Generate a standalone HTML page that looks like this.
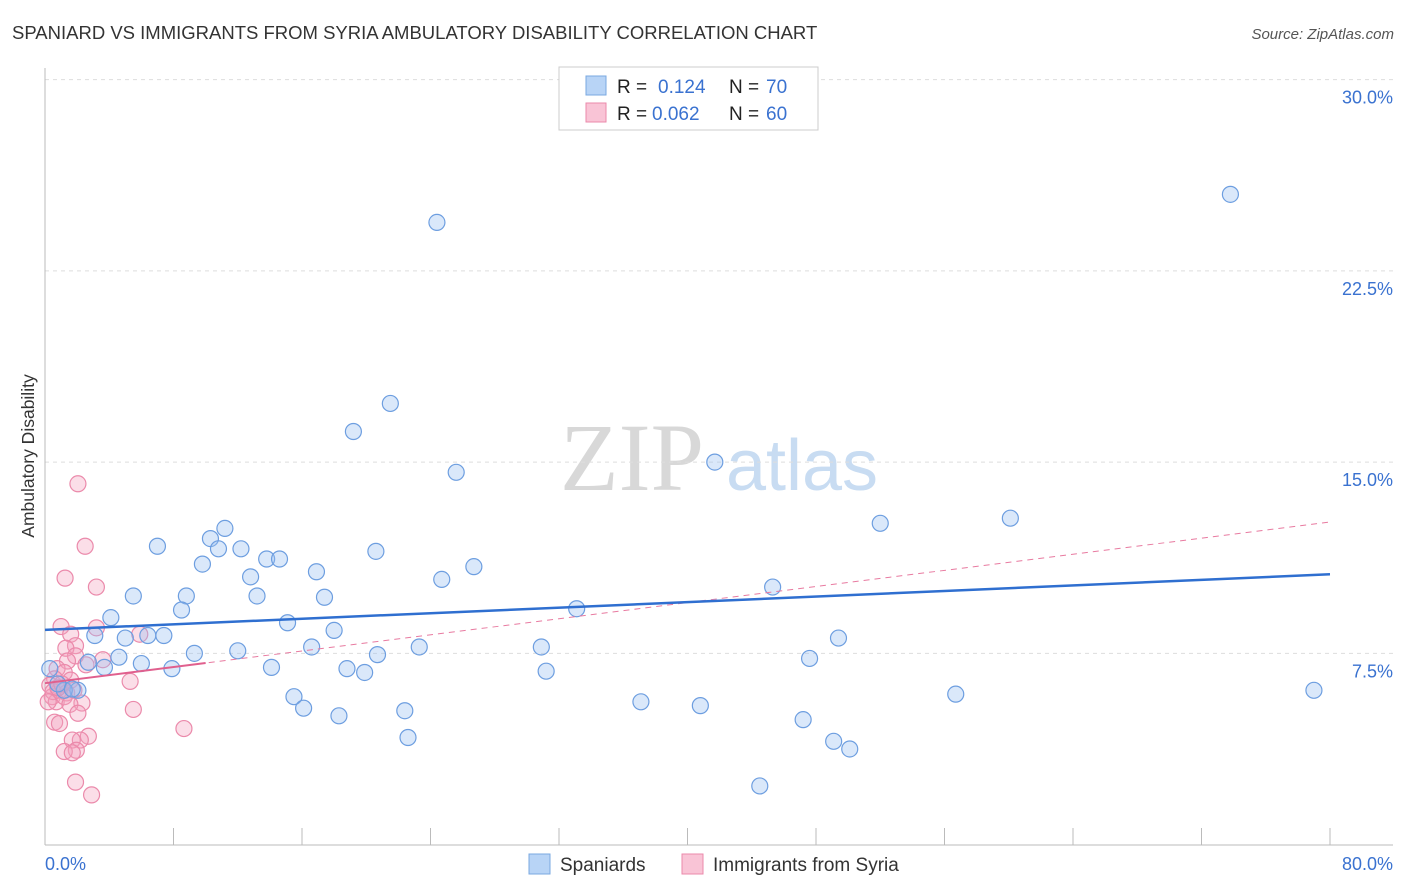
<!DOCTYPE html>
<html><head><meta charset="utf-8">
<style>
body{margin:0;background:#fff;font-family:"Liberation Sans",sans-serif;}
#wrap{position:relative;width:1406px;height:892px;overflow:hidden;}
</style></head>
<body>
<div id="wrap">
<svg id="svg" width="1406" height="892" xmlns="http://www.w3.org/2000/svg">
<text x="12" y="39" font-size="18.5" fill="#333">SPANIARD VS IMMIGRANTS FROM SYRIA AMBULATORY DISABILITY CORRELATION CHART</text>
<text x="1394" y="39" font-size="15" fill="#555" font-style="italic" text-anchor="end">Source: ZipAtlas.com</text>
<text x="34" y="456" font-size="17.5" fill="#333" text-anchor="middle" transform="rotate(-90 34 456)">Ambulatory Disability</text>
<g>
<text x="632" y="490" font-size="96" fill="#d8d8d8" font-family="Liberation Serif, serif" text-anchor="middle">ZIP</text>
<text x="802" y="490" font-size="72" fill="#c8dcf2" text-anchor="middle">atlas</text>
</g>
<g id="grid"></g>
<g id="axes"></g>
<g id="marks"></g>
<g>
<rect x="559" y="67" width="259" height="63" fill="#fff" stroke="#ccc"/>
<rect x="586" y="76" width="20" height="19" fill="#b8d4f6" stroke="#7aa8e0"/>
<rect x="586" y="103" width="20" height="19" fill="#f9c4d6" stroke="#eb8aab"/>
<text x="617" y="93" font-size="19" fill="#222">R =</text>
<text x="658" y="93" font-size="19" fill="#3a72d0">0.124</text>
<text x="729" y="93" font-size="19" fill="#222">N =</text>
<text x="766" y="93" font-size="19" fill="#3a72d0">70</text>
<text x="617" y="120" font-size="19" fill="#222">R =</text>
<text x="652" y="120" font-size="19" fill="#3a72d0">0.062</text>
<text x="729" y="120" font-size="19" fill="#222">N =</text>
<text x="766" y="120" font-size="19" fill="#3a72d0">60</text>
</g>
<g>
<rect x="529" y="854" width="21" height="20" fill="#b8d4f6" stroke="#7aa8e0"/>
<text x="560" y="871" font-size="19" fill="#333">Spaniards</text>
<rect x="682" y="854" width="21" height="20" fill="#f9c4d6" stroke="#eb8aab"/>
<text x="713" y="871" font-size="19" fill="#333">Immigrants from Syria</text>
</g>
</svg>
</div>
<script>
const yTicks=[7.5,15,22.5,30];
const yTickLabels=["7.5%","15.0%","22.5%","30.0%"];
const xTickCount=[0,8,16,24,32,40,48,56,64,72,80];
const blueX=[24.4,73.8,21.5,19.2,25.6,41.7,52.0,60.1,11.2,10.3,7.0,12.2,10.8,20.6,13.8,14.6,9.8,16.9,26.7,12.8,24.7,45.3,5.5,8.8,13.2,17.4,8.5,33.1,4.1,15.1,18.0,3.1,5.0,6.4,7.4,49.4,12.0,16.6,23.3,30.9,9.3,4.6,20.7,2.7,6.0,3.7,14.1,7.9,18.8,19.9,31.2,47.6,0.3,2.05,1.2,79.0,15.5,56.7,37.1,16.1,40.8,22.4,18.3,47.2,22.6,49.1,50.1,44.5,0.8,1.7];
const blueY=[24.4,25.5,17.3,16.2,14.6,15.0,12.6,12.8,12.4,12.0,11.7,11.6,11.6,11.5,11.2,11.2,11.0,10.7,10.9,10.5,10.4,10.1,9.75,9.75,9.75,9.7,9.2,9.25,8.9,8.7,8.4,8.2,8.1,8.2,8.2,8.1,7.6,7.75,7.75,7.75,7.5,7.35,7.45,7.15,7.1,6.95,6.95,6.9,6.9,6.75,6.8,7.3,6.9,6.05,6.05,6.05,5.8,5.9,5.6,5.35,5.45,5.25,5.05,4.9,4.2,4.05,3.75,2.3,6.3,6.1];
const pinkX=[2.05,2.5,1.25,3.2,1.0,1.6,3.2,5.9,1.9,1.3,3.6,1.9,1.4,0.75,1.2,0.6,1.6,0.3,0.9,1.35,1.8,0.45,0.7,1.2,2.3,1.55,5.3,5.5,2.05,0.6,0.9,8.65,2.7,2.2,1.7,1.95,1.2,1.7,1.9,2.9,0.5,0.8,1.05,0.2,2.55];
const pinkY=[14.15,11.7,10.45,10.1,8.55,8.25,8.5,8.25,7.8,7.7,7.25,7.4,7.2,6.9,6.75,6.5,6.45,6.25,6.05,5.95,6.05,5.8,5.6,5.8,5.55,5.5,6.4,5.3,5.15,4.8,4.75,4.55,4.25,4.1,4.1,3.7,3.65,3.6,2.45,1.95,6.0,6.15,6.3,5.6,7.05];
const blueTrend=[8.42,10.6];
const pinkTrend=[6.33,12.65];
const pinkSolidEnd=10;

const NS="http://www.w3.org/2000/svg";
const X=v=>45+v/80*1285;
const Y=v=>844.6-v*25.5;
function mk(tag,attrs,parent){const e=document.createElementNS(NS,tag);for(const k in attrs)e.setAttribute(k,attrs[k]);document.getElementById(parent).appendChild(e);return e;}

yTicks.forEach((t,i)=>{
  const g=mk('line',{x1:45,x2:1393,y1:Y(t),y2:Y(t),stroke:'#ddd','stroke-dasharray':'4,4'},'grid');
  
  
  const l=mk('text',{x:1393,y:Y(t)+24,'font-size':18,fill:'#3a72d0','text-anchor':'end'},'axes');
  l.textContent=yTickLabels[i];
  
  
});
mk('line',{x1:45,x2:45,y1:68,y2:845,stroke:'#bbb'},'axes');
mk('line',{x1:45,x2:1393,y1:845,y2:845,stroke:'#bbb'},'axes');
xTickCount.forEach(t=>{
  const tk=mk('line',{x1:X(t),x2:X(t),y1:828,y2:845,stroke:'#bbb'},'axes');
  
  
});
const x0=mk('text',{x:45,y:870,'font-size':18,fill:'#3a72d0'},'axes');x0.textContent='0.0%';


const x1=mk('text',{x:1393,y:870,'font-size':18,fill:'#3a72d0','text-anchor':'end'},'axes');x1.textContent='80.0%';



pinkX.forEach((v,i)=>{
  const c=mk('circle',{cx:X(v),cy:Y(pinkY[i]),r:8,fill:'rgba(244,160,190,0.35)',stroke:'#eb8aab','stroke-width':1.2},'marks');
  
  
});
blueX.forEach((v,i)=>{
  const c=mk('circle',{cx:X(v),cy:Y(blueY[i]),r:8,fill:'rgba(150,190,240,0.35)',stroke:'#6d9ee0','stroke-width':1.2},'marks');
  
  
});
const pd=mk('line',{x1:X(0),y1:Y(pinkTrend[0]),x2:X(80),y2:Y(pinkTrend[1]),stroke:'#e87aa0','stroke-width':1,'stroke-dasharray':'6,5'},'marks');


const pe=pinkTrend[0]+(pinkTrend[1]-pinkTrend[0])*pinkSolidEnd/80;
const ps=mk('line',{x1:X(0),y1:Y(pinkTrend[0]),x2:X(pinkSolidEnd),y2:Y(pe),stroke:'#e0608e','stroke-width':2},'marks');


const bt=mk('line',{x1:X(0),y1:Y(blueTrend[0]),x2:X(80),y2:Y(blueTrend[1]),stroke:'#2f6fd0','stroke-width':2.5},'marks');


</script>
</body></html>
